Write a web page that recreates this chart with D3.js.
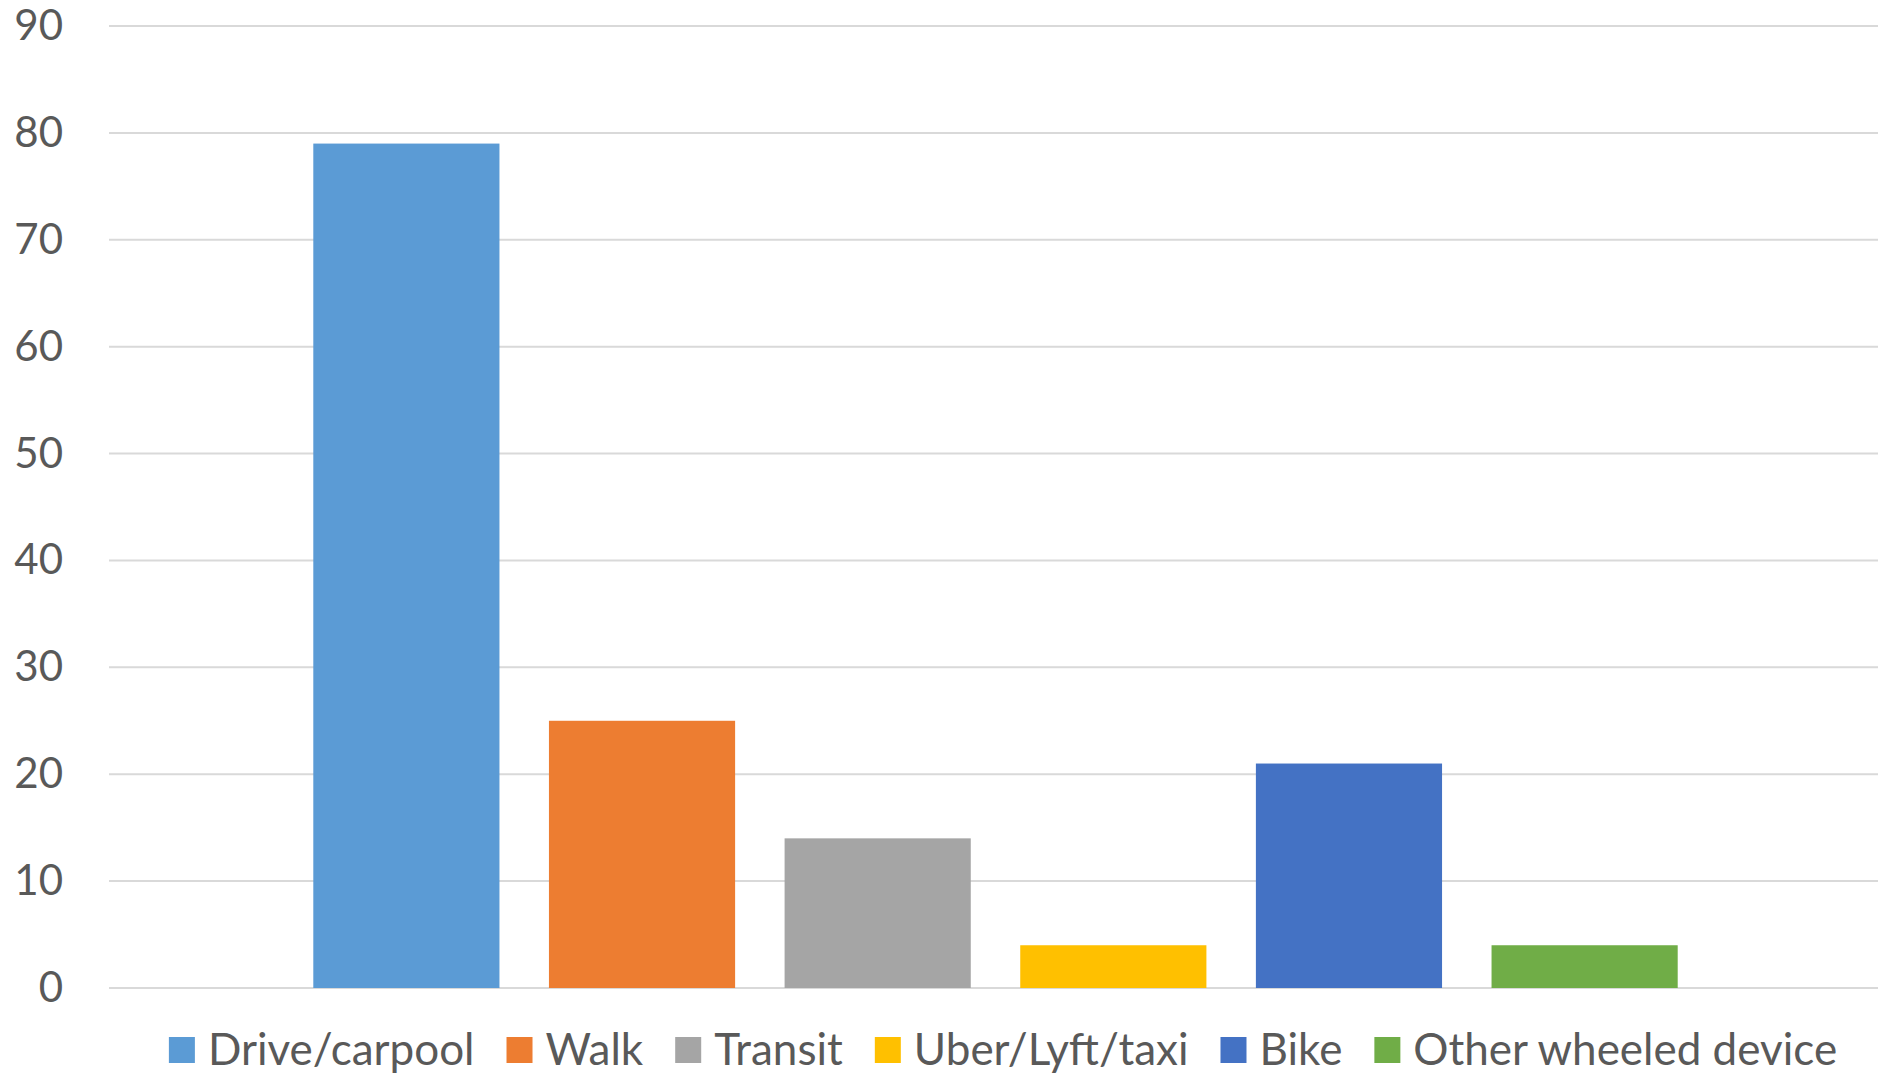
<!DOCTYPE html>
<html>
<head>
<meta charset="utf-8">
<script src="https://cdn.jsdelivr.net/npm/d3@7"></script>
<style>
  html, body { margin: 0; padding: 0; background: #fff; }
  svg { display: block; }
</style>
</head>
<body>
<script>
// chart values
const categories = ["Drive/carpool", "Walk", "Transit", "Uber/Lyft/taxi", "Bike", "Other wheeled device"];
const values = [79, 25, 14, 4, 21, 4];
const colors = ["#5B9BD5", "#ED7D31", "#A5A5A5", "#FFC000", "#4472C4", "#70AD47"];
const yTicks = [0, 10, 20, 30, 40, 50, 60, 70, 80, 90];

const W = 1878, H = 1074;
const margin = {top: 26, right: 0, bottom: 86, left: 109};
const fontFam = "Lato, 'Open Sans', sans-serif";
const textColor = "#595959";

const svg = d3.select("body").append("svg")
    .attr("width", W)
    .attr("height", H);

const x = d3.scaleBand()
    .domain(categories)
    .range([margin.left + 4, W - margin.right])
    .paddingInner(0.21)
    .paddingOuter(0.85);

const y = d3.scaleLinear()
    .domain([0, 90])
    .range([H - margin.bottom, margin.top]);

// gridlines
svg.append("g")
  .selectAll("line")
  .data(yTicks)
  .join("line")
    .attr("x1", margin.left)
    .attr("x2", W - margin.right)
    .attr("y1", d => y(d))
    .attr("y2", d => y(d))
    .attr("stroke", "#d9d9d9")
    .attr("stroke-width", 2);

// y axis labels
const yAxis = svg.append("g")
    .attr("transform", "translate(" + margin.left + ",0)")
    .call(d3.axisLeft(y).tickValues(yTicks).tickSize(0).tickPadding(46));
yAxis.select(".domain").remove();
yAxis.selectAll("text")
    .attr("fill", textColor)
    .style("font-family", fontFam)
    .style("font-size", "42px");

// bars
svg.append("g")
  .selectAll("rect")
  .data(values)
  .join("rect")
    .attr("x", (d, i) => x(categories[i]))
    .attr("y", d => y(d))
    .attr("width", x.bandwidth())
    .attr("height", d => y(0) - y(d))
    .attr("fill", (d, i) => colors[i]);

// legend, laid out from the text widths and centred
const legend = svg.append("g");
const sq = 26, sqGap = 13, itemGap = 32, legendY = 1050;
const items = legend.selectAll("g")
  .data(categories)
  .join("g");
items.append("rect")
    .attr("width", sq)
    .attr("height", sq)
    .attr("y", legendY - sq / 2)
    .attr("fill", (d, i) => colors[i]);
items.append("text")
    .attr("x", sq + sqGap)
    .attr("y", legendY)
    .attr("dy", "0.35em")
    .attr("fill", textColor)
    .style("font-family", fontFam)
    .style("font-size", "44px")
    .text(d => d);

let offset = 0;
const offsets = [];
items.each(function() {
  const tw = d3.select(this).select("text").node().getComputedTextLength();
  offsets.push(offset);
  offset += sq + sqGap + tw + itemGap;
});
const total = offset - itemGap;
const start = 1003 - total / 2;
items.attr("transform", (d, i) => "translate(" + (start + offsets[i]) + ",0)");
</script>
</body>
</html>
